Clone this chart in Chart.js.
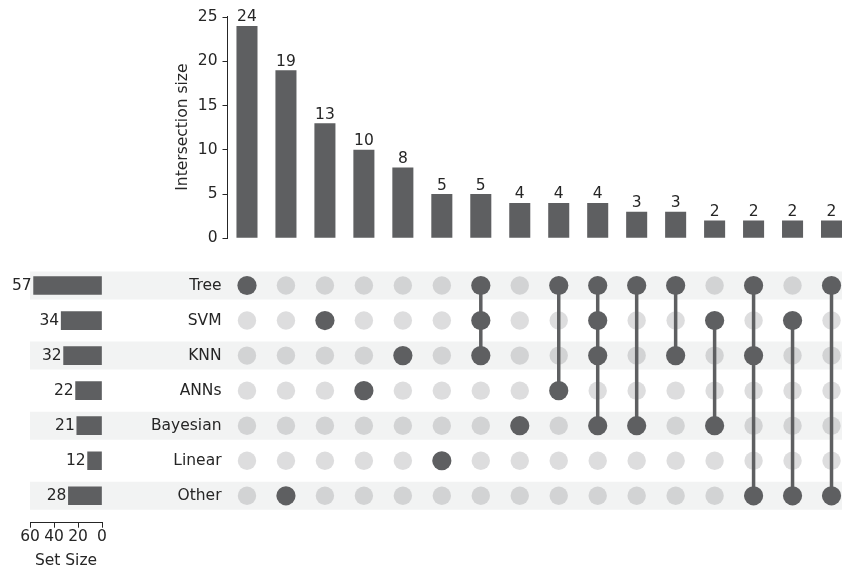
<!DOCTYPE html>
<html>
<head>
<meta charset="utf-8">
<script src="https://cdn.jsdelivr.net/npm/chart.js@4/dist/chart.umd.min.js"></script>
<style>
  html, body { margin: 0; padding: 0; background: #ffffff; }
  #wrap { position: relative; width: 842px; height: 570px; overflow: hidden; }
  #wrap canvas { position: absolute; left: 0; top: 0; }
</style>
</head>
<body>
<div id="wrap">
  <canvas id="stripes" width="880" height="570" style="width:880px;height:570px"></canvas>
  <canvas id="sizes" width="880" height="570" style="width:880px;height:570px"></canvas>
  <canvas id="matrix" width="880" height="570" style="width:880px;height:570px"></canvas>
  <canvas id="bars" width="880" height="570" style="width:880px;height:570px"></canvas>
</div>
<script>
// ---- data ----
const setNames = ['Tree', 'SVM', 'KNN', 'ANNs', 'Bayesian', 'Linear', 'Other'];
const setSizes = [57, 34, 32, 22, 21, 12, 28];
const intersectionSizes = [24, 19, 13, 10, 8, 5, 5, 4, 4, 4, 3, 3, 2, 2, 2, 2];
const intersectionMembers = [
  ['Tree'],
  ['Other'],
  ['SVM'],
  ['ANNs'],
  ['KNN'],
  ['Linear'],
  ['Tree', 'SVM', 'KNN'],
  ['Bayesian'],
  ['Tree', 'ANNs'],
  ['Tree', 'SVM', 'KNN', 'Bayesian'],
  ['Tree', 'Bayesian'],
  ['Tree', 'KNN'],
  ['SVM', 'Bayesian'],
  ['Tree', 'KNN', 'Other'],
  ['SVM', 'Other'],
  ['Tree', 'Other']
];
const intersectionTicks = [0, 5, 10, 15, 20, 25];
const setSizeTicks = [60, 40, 20, 0];

// ---- styling ----
const DARK = '#5e5f61';
const LIGHT_DOT = 'rgba(94, 95, 97, 0.21)';
const STRIPE = '#f2f3f3';
const TEXT = '#262626';
const FONT = { family: 'DejaVu Sans', size: 15.5 };

Chart.defaults.font.family = FONT.family;
Chart.defaults.font.size = FONT.size;
Chart.defaults.color = TEXT;

const CANVAS_W = 880;
const MATRIX_LEFT = 227.5, MATRIX_RIGHT = 851;
const MATRIX_TOP = 268, MATRIX_BOTTOM = 513.3;
const SIZE_AXIS_Y = 522.7;

const common = {
  responsive: false,
  animation: false,
  devicePixelRatio: 1,
  events: [],
  plugins: { legend: { display: false }, tooltip: { enabled: false } }
};

// ---- alternating row shading ----
new Chart(document.getElementById('stripes'), {
  type: 'bar',
  data: {
    labels: setNames,
    datasets: [{
      data: setNames.map((_, i) => (i % 2 === 0 ? [0, 1] : null)),
      backgroundColor: STRIPE,
      borderWidth: 0,
      barPercentage: 0.8,
      categoryPercentage: 1
    }]
  },
  options: {
    ...common,
    indexAxis: 'y',
    layout: { padding: { left: 30, right: 0, top: MATRIX_TOP, bottom: 570 - MATRIX_BOTTOM } },
    scales: {
      x: { type: 'linear', min: 0, max: 1, display: false },
      y: { type: 'category', display: false }
    }
  }
});

// ---- set size bars (left) ----
const setSizeLabels = {
  id: 'setSizeLabels',
  afterDatasetsDraw(chart) {
    const ctx = chart.ctx;
    const meta = chart.getDatasetMeta(0);
    ctx.save();
    ctx.font = `${FONT.size}px "${FONT.family}"`;
    ctx.fillStyle = TEXT;
    ctx.textAlign = 'right';
    ctx.textBaseline = 'middle';
    meta.data.forEach((el, i) => {
      ctx.fillText(String(setSizes[i]), el.x - 2, el.y);
    });
    ctx.restore();
  }
};

// rows span 35.05px each; the axis sits a little below the last row
const ROW_PX = (MATRIX_BOTTOM - MATRIX_TOP) / setNames.length;
const sizeRowMax = setNames.length - 0.5 + (SIZE_AXIS_Y - MATRIX_BOTTOM) / ROW_PX;

new Chart(document.getElementById('sizes'), {
  type: 'bar',
  data: {
    datasets: [{
      data: setSizes.map((v, i) => ({ x: v, y: i })),
      backgroundColor: DARK,
      borderWidth: 0,
      barThickness: 18
    }]
  },
  options: {
    ...common,
    indexAxis: 'y',
    layout: { padding: { left: 30, right: CANVAS_W - 102, top: MATRIX_TOP, bottom: 0 } },
    scales: {
      y: {
        type: 'linear', min: -0.5, max: sizeRowMax, reverse: true, offset: false,
        bounds: 'data', display: false
      },
      x: {
        type: 'linear', position: 'bottom', reverse: true, min: 0, max: 60,
        afterBuildTicks: (axis) => { axis.ticks = setSizeTicks.map(v => ({ value: v })); },
        afterFit: (axis) => { axis.height = 570 - SIZE_AXIS_Y; },
        grid: { drawOnChartArea: false, drawTicks: true, tickLength: 5, color: TEXT, lineWidth: 1 },
        border: { display: true, color: TEXT, width: 1 },
        ticks: { padding: 0, color: TEXT, maxRotation: 0, autoSkip: false },
        title: { display: true, text: 'Set Size', color: TEXT, padding: { top: 0, bottom: 0 } }
      }
    }
  },
  plugins: [setSizeLabels]
});

// ---- membership matrix ----
const darkDots = [];
const lightDots = [];
const connectors = [];
intersectionMembers.forEach((members, c) => {
  const rows = members.map(m => setNames.indexOf(m));
  setNames.forEach((_, r) => {
    (rows.includes(r) ? darkDots : lightDots).push({ x: c, y: r });
  });
  if (rows.length > 1) {
    connectors.push({
      data: [{ x: c, y: Math.min(...rows) }, { x: c, y: Math.max(...rows) }],
      showLine: true,
      borderColor: DARK,
      borderWidth: 3.5,
      pointRadius: 0,
      order: 1
    });
  }
});

new Chart(document.getElementById('matrix'), {
  type: 'scatter',
  data: {
    datasets: [
      { data: darkDots, pointRadius: 9.6, backgroundColor: DARK, borderWidth: 0, order: 0 },
      ...connectors,
      { data: lightDots, pointRadius: 9.2, backgroundColor: LIGHT_DOT, borderWidth: 0, order: 2 }
    ]
  },
  options: {
    ...common,
    layout: { padding: { left: 0, right: CANVAS_W - MATRIX_RIGHT, top: MATRIX_TOP, bottom: 570 - MATRIX_BOTTOM } },
    scales: {
      x: { type: 'linear', min: -0.5, max: intersectionSizes.length - 0.5, display: false },
      y: {
        type: 'linear', min: -0.5, max: setNames.length - 0.5, reverse: true,
        afterBuildTicks: (axis) => { axis.ticks = setNames.map((_, i) => ({ value: i })); },
        afterFit: (axis) => { axis.width = MATRIX_LEFT; },
        grid: { display: false, drawTicks: false },
        border: { display: false },
        ticks: { padding: 6, color: TEXT, callback: (v) => setNames[v] }
      }
    }
  }
});

// ---- intersection size bars (top) ----
const barValueLabels = {
  id: 'barValueLabels',
  afterDatasetsDraw(chart) {
    const ctx = chart.ctx;
    const meta = chart.getDatasetMeta(0);
    ctx.save();
    ctx.font = `${FONT.size}px "${FONT.family}"`;
    ctx.fillStyle = TEXT;
    ctx.textAlign = 'center';
    ctx.textBaseline = 'alphabetic';
    meta.data.forEach((el, i) => {
      ctx.fillText(String(intersectionSizes[i]), el.x, el.y - 4.5);
    });
    ctx.restore();
  }
};

new Chart(document.getElementById('bars'), {
  type: 'bar',
  data: {
    labels: intersectionMembers.map(m => m.join(' & ')),
    datasets: [{
      data: intersectionSizes,
      backgroundColor: DARK,
      borderWidth: 0,
      barPercentage: 0.54,
      categoryPercentage: 1
    }]
  },
  options: {
    ...common,
    layout: { padding: { left: 0, right: CANVAS_W - MATRIX_RIGHT, top: 16, bottom: 570 - 238.3 } },
    scales: {
      x: { type: 'category', display: false },
      y: {
        type: 'linear', min: 0, max: 25.13,
        afterBuildTicks: (axis) => { axis.ticks = intersectionTicks.map(v => ({ value: v })); },
        afterFit: (axis) => { axis.width = MATRIX_LEFT; },
        grid: { drawOnChartArea: false, drawTicks: true, tickLength: 5, color: TEXT, lineWidth: 1 },
        border: { display: true, color: TEXT, width: 1 },
        ticks: { padding: 5, color: TEXT },
        title: { display: true, text: 'Intersection size', color: TEXT, padding: { top: 173.5, bottom: 0 } }
      }
    }
  },
  plugins: [barValueLabels]
});
</script>
</body>
</html>
